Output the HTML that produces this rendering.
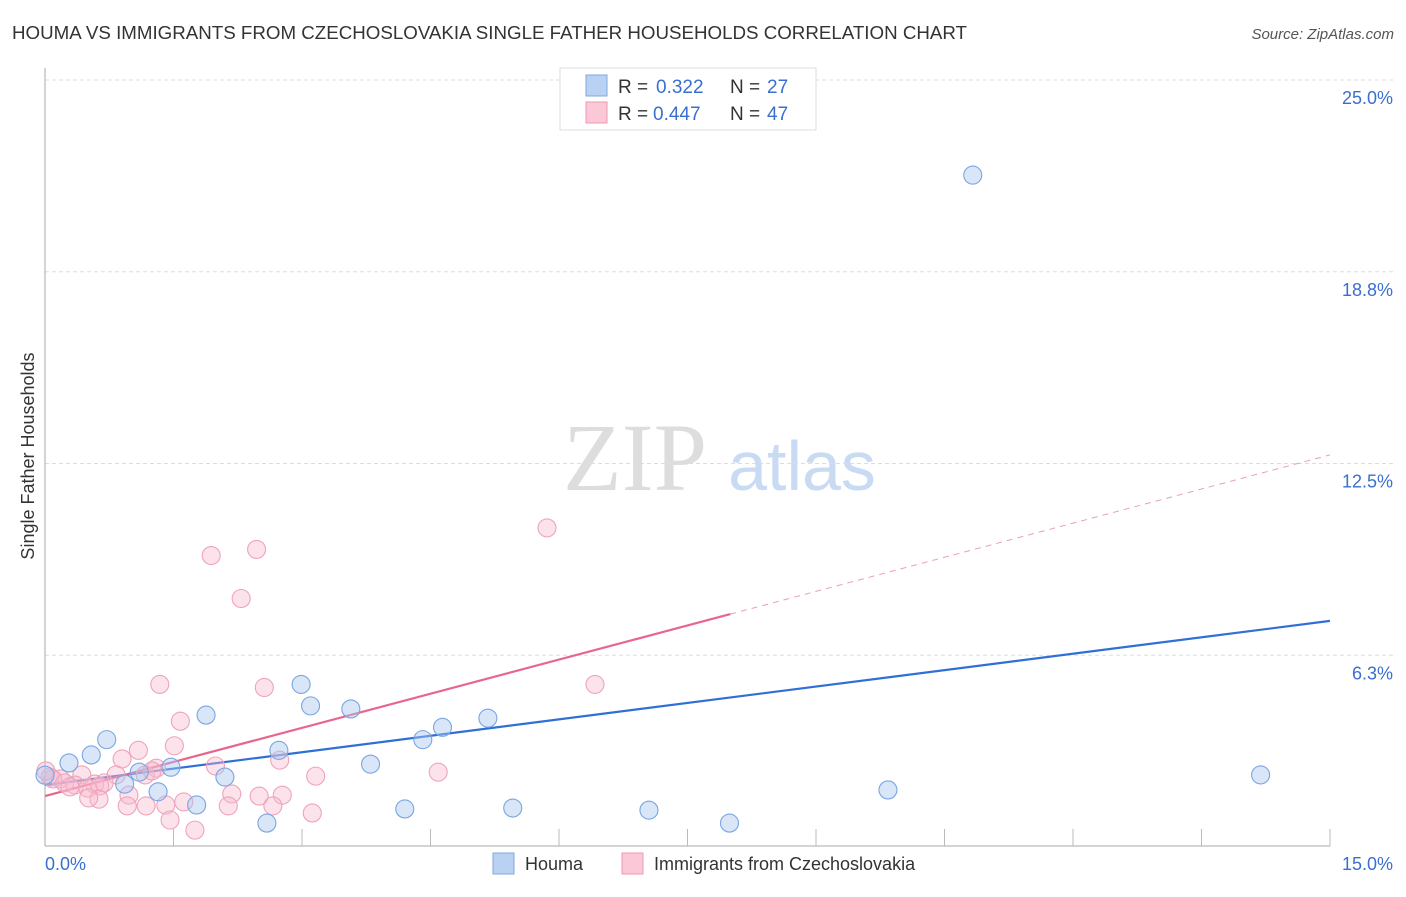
<!DOCTYPE html>
<html><head><meta charset="utf-8"><style>
body{margin:0;background:#fff;font-family:"Liberation Sans",sans-serif}
</style></head><body>
<svg id="chart" width="1406" height="892" xmlns="http://www.w3.org/2000/svg">
<text x="12" y="39" font-size="18" fill="#333" textLength="955" lengthAdjust="spacingAndGlyphs">HOUMA VS IMMIGRANTS FROM CZECHOSLOVAKIA SINGLE FATHER HOUSEHOLDS CORRELATION CHART</text>
<text x="1394" y="39" font-size="15" fill="#555" font-style="italic" text-anchor="end">Source: ZipAtlas.com</text>
<text x="34" y="456" font-size="18" fill="#333" text-anchor="middle" transform="rotate(-90 34 456)">Single Father Households</text>
<g><text x="635" y="490" font-size="96" fill="#ddd" font-family="Liberation Serif,serif" text-anchor="middle">ZIP</text><text x="802" y="490" font-size="70" fill="#c9dbf3" text-anchor="middle">atlas</text></g>
<g id="grid"></g><g id="axes"></g><g id="lines"></g><g id="pts"></g>
<g font-size="19">
<rect x="560" y="68" width="256" height="62" fill="#fff" stroke="#ddd"/>
<rect x="586" y="75" width="21" height="21" fill="#b9d2f3" stroke="#7fa8e0"/>
<text x="618" y="93" fill="#333">R =</text><text x="656" y="93" fill="#3a6fd0">0.322</text>
<text x="730" y="93" fill="#333">N =</text><text x="767" y="93" fill="#3a6fd0">27</text>
<rect x="586" y="102" width="21" height="21" fill="#fac8d6" stroke="#ef9ab3"/>
<text x="618" y="120" fill="#333">R =</text><text x="653" y="120" fill="#3a6fd0">0.447</text>
<text x="730" y="120" fill="#333">N =</text><text x="767" y="120" fill="#3a6fd0">47</text>
</g>
<g>
<rect x="493" y="853" width="21" height="21" fill="#b9d2f3" stroke="#7fa8e0"/><text x="525" y="870" font-size="18" fill="#333">Houma</text>
<rect x="622" y="853" width="21" height="21" fill="#fac8d6" stroke="#ef9ab3"/><text x="654" y="870" font-size="18" fill="#333">Immigrants from Czechoslovakia</text>
</g>
</svg>
<script>
const yTicks=[6.25,12.5,18.75,25];
const yTickLabels=["6.3%","12.5%","18.8%","25.0%"];
const xLabels=["0.0%","15.0%"];
const houmaX=[10.83,2.99,3.10,3.57,1.88,5.17,4.64,0.72,4.41,2.73,0.54,0.28,3.80,1.47,1.10,2.10,0.93,14.19,9.84,1.32,1.77,4.20,5.46,7.05,2.59,7.99,0.0];
const houmaY=[21.9,5.3,4.6,4.5,4.3,4.2,3.9,3.5,3.5,3.15,3.0,2.74,2.7,2.6,2.44,2.28,2.05,2.35,1.86,1.8,1.37,1.24,1.27,1.2,0.78,0.78,2.34];
const czX=[5.86,2.47,1.94,2.29,1.34,2.56,6.42,1.58,1.51,1.09,0.90,2.74,1.99,1.30,4.59,3.16,0.43,0.83,1.17,1.25,0.18,0.06,0.09,0.23,0.35,0.58,0.69,0.50,0.29,0.64,2.18,2.50,2.77,0.98,0.63,0.51,1.62,1.41,1.18,0.96,2.14,2.66,3.12,1.46,1.75,0.01];
const czY=[10.4,9.7,9.5,8.1,5.3,5.2,5.3,4.1,3.3,3.15,2.87,2.83,2.64,2.57,2.44,2.31,2.35,2.35,2.35,2.48,2.22,2.28,2.22,2.09,2.02,2.05,2.09,1.92,1.96,1.99,1.73,1.66,1.69,1.69,1.56,1.6,1.47,1.37,1.34,1.34,1.34,1.34,1.11,0.88,0.55,2.48];
const houmaTrend=[2.02,7.37];
const czTrend=[1.66,12.78];
const X=v=>45+v/15*1285, Y=v=>847-v/25*767;
const NS="http://www.w3.org/2000/svg";
function mk(t,a,p){const e=document.createElementNS(NS,t);for(const k in a)e.setAttribute(k,a[k]);p.appendChild(e);return e;}
const grid=document.getElementById('grid'),axes=document.getElementById('axes'),lines=document.getElementById('lines'),pts=document.getElementById('pts');
yTicks.forEach((t,i)=>{
 const g=mk('line',{x1:45,x2:1395,y1:Y(t),y2:Y(t),stroke:'#ddd','stroke-dasharray':'4,3'},grid);
 
 
 const l=mk('text',{x:1393,y:Y(t)+24,'font-size':18,fill:'#3a6fd0','text-anchor':'end'},axes);l.textContent=yTickLabels[i];
 
 
});
mk('line',{x1:45,x2:45,y1:68,y2:846,stroke:'#aaa'},axes);
mk('line',{x1:45,x2:1330,y1:846,y2:846,stroke:'#aaa'},axes);
for(let i=1;i<=10;i++){const t=mk('line',{x1:X(i*1.5),x2:X(i*1.5),y1:829,y2:846,stroke:'#bbb'},axes);}
[[0,'start',45],[15,'end',1393]].forEach((a,i)=>{const l=mk('text',{x:a[2],y:870,'font-size':18,fill:'#3a6fd0','text-anchor':a[1]},axes);l.textContent=xLabels[i];
 
 });
function dot(x,y,f,s,name){const c=mk('circle',{cx:X(x),cy:Y(y),r:9,fill:f,stroke:s,'stroke-width':1.1},pts);
 
 }
czX.forEach((x,i)=>dot(x,czY[i],'rgba(248,185,205,0.4)','#efa3ba','czech-point'));
houmaX.forEach((x,i)=>dot(x,houmaY[i],'rgba(170,200,240,0.45)','#79a5e2','houma-point'));
const hl=mk('line',{x1:X(0),y1:Y(houmaTrend[0]),x2:X(15),y2:Y(houmaTrend[1]),stroke:'#2f6fd6','stroke-width':2.2},lines);


const cy8=czTrend[0]+(czTrend[1]-czTrend[0])*8/15;
const cl=mk('line',{x1:X(0),y1:Y(czTrend[0]),x2:X(8),y2:Y(cy8),stroke:'#e8668e','stroke-width':2.2},lines);


const cd=mk('line',{x1:X(8),y1:Y(cy8),x2:X(15),y2:Y(czTrend[1]),stroke:'#e8a0b6','stroke-width':1,'stroke-dasharray':'6,5'},lines);


</script>
</body></html>
